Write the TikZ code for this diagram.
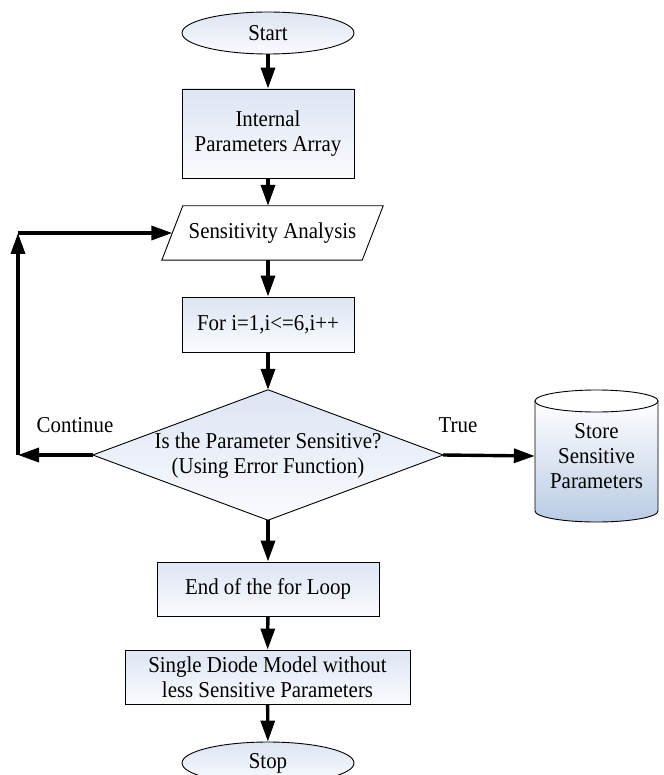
\documentclass[tikz,border=0pt]{standalone}
\usepackage{fontspec}
\setmainfont[FakeStretch=0.92]{Liberation Serif}
\usetikzlibrary{arrows.meta,shapes.geometric,calc}
\definecolor{boxtop}{RGB}{221,229,243}
\definecolor{boxbot}{RGB}{250,251,254}
\definecolor{cylbot}{RGB}{185,203,228}
\begin{document}
\begin{tikzpicture}[x=1pt,y=-1pt,font=\fontsize{22.7}{25}\selectfont,
  shadefill/.style={top color=boxtop,bottom color=boxbot},
  proc/.style={draw,line width=0.9pt,shadefill,align=center,inner sep=0pt},
  term/.style={ellipse,draw,line width=0.9pt,shadefill,inner sep=0pt},
  thin/.style={draw,line width=0.9pt},
  arr/.style={line width=3.4pt,-{Triangle[length=21pt,width=14pt]}},
  plain/.style={inner sep=0pt,align=center}]
\useasboundingbox (0,0) rectangle (663,775);
% nodes
\node[term,minimum width=172pt,minimum height=42pt] (start) at (268,33) {Start};
\node[proc,minimum width=172pt,minimum height=89pt] (ipa) at (268,133.5) {Internal\\Parameters Array};
\node[plain,minimum width=200pt,minimum height=54pt] (sa) at (272.5,233) {Sensitivity Analysis};
\draw[thin] ($(sa.north west)+(10.5,0)$) -- ($(sa.north east)+(10.5,0)$) -- ($(sa.south east)+(-10.5,0)$) -- ($(sa.south west)+(-10.5,0)$) -- cycle;
\node[proc,minimum width=172pt,minimum height=55pt] (for) at (268,324.5) {For i=1,i<=6,i++};
\node[plain,minimum width=350pt,minimum height=130pt] (dec) at (268,455) {};
\path[thin,shadefill] (dec.north) -- (dec.east) -- (dec.south) -- (dec.west) -- cycle;
\node[plain] (dectext) at (268,456) {Is the Parameter Sensitive?\\(Using Error Function)};
% cylinder
\path[thin,top color=white,bottom color=cylbot] (535,401) -- (535,511) arc[start angle=180,end angle=0,x radius=61.5,y radius=11] -- (658,401) -- cycle;
\draw[line width=0.9pt,fill=white] (596.5,401) ellipse [x radius=61.5,y radius=11];
\node[plain,minimum width=123pt,minimum height=132pt] (store) at (596.5,456) {Store\\Sensitive\\Parameters};
\node[proc,minimum width=222pt,minimum height=54pt] (end) at (268,589) {End of the for Loop};
\node[proc,minimum width=285pt,minimum height=54pt] (sdm) at (267.5,677) {Single Diode Model without\\less Sensitive Parameters};
\node[term,minimum width=172pt,minimum height=42pt] (stop) at (268,763) {Stop};
\node[plain] (cont) at (75,425) {Continue};
\node[plain] (true) at (458,425) {True};
\coordinate (lb) at (18,455);
\coordinate (lt) at (18,233);
% connectors
\draw[arr] (start) -- (ipa);
\draw[arr] (ipa.south) -- (ipa.south |- sa.north);
\draw[arr] (sa.south -| for.north) -- (for.north);
\draw[arr] (for) -- (dec.north);
\draw[arr] (dec.south) -- (end);
\draw[arr] (end) -- (sdm);
\draw[arr] (sdm) -- (stop);
\draw[arr] (dec.west) -- (lb);
\draw[arr] (lb) -- (lt);
\draw[arr] (lt) -- (sa.west);
\draw[arr] (dec.east) -- (store.west);
\end{tikzpicture}
\end{document}
